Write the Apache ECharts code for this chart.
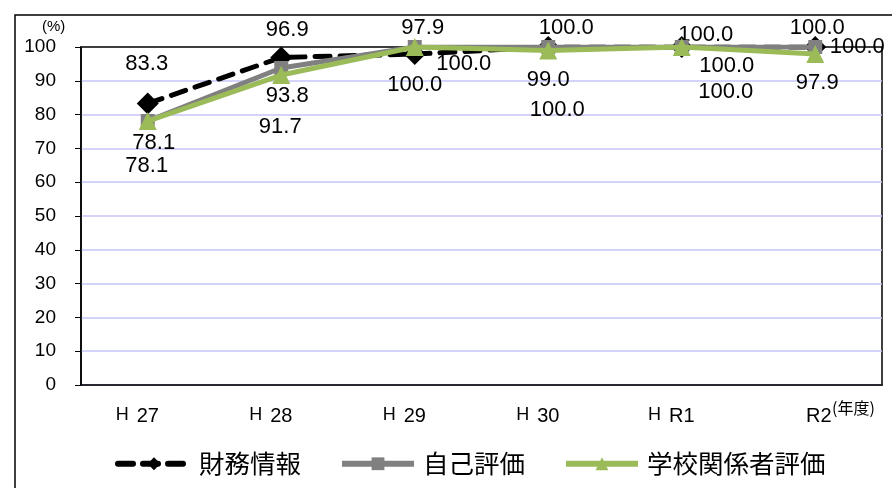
<!DOCTYPE html>
<html>
<head>
<meta charset="utf-8">
<script src="https://cdn.jsdelivr.net/npm/echarts@6/dist/echarts.min.js"></script>
<style>
  html, body { margin: 0; padding: 0; background: #fff; }
  #chart { width: 892px; height: 488px; }
</style>
</head>
<body>
<div id="chart"></div>
<script>
var years = ['27', '28', '29', '30', 'R1', 'R2'];
var names = ['財務情報', '自己評価', '学校関係者評価'];
var zaimu = [83.3, 96.9, 97.9, 100.0, 100.0, 100.0];
var jiko = [78.1, 93.8, 100.0, 100.0, 100.0, 100.0];
var gakko = [78.1, 91.7, 100.0, 99.0, 100.0, 97.9];
var yTicks = [0, 10, 20, 30, 40, 50, 60, 70, 80, 90, 100];

// label offsets (px from the marker), per series
var offZaimu = [[-1, -40], [6, -28], [8, -26], [18, -19], [24, -12], [2, -19]];
var offJiko = [[6, 22], [6, 28], [49, 17], [9, 63], [45, 19], [42, 0]];
var offGakko = [[-1, 45], [-1, 52], [0, 38], [0, 30], [44, 45], [2, 29]];

var myChart = echarts.init(document.getElementById('chart'));

function withLabels(vals, offs) {
	return vals.map(function (v, i) {
		return {
			value: v,
			label: { show: true, position: 'inside', offset: offs[i] }
		};
	});
}

var labelStyle = {
	show: true,
	color: '#000',
	fontSize: 22,
	fontFamily: 'Liberation Sans',
	formatter: function (p) { return p.value.toFixed(1); }
};

var option = {
	animation: false,
	backgroundColor: '#fff',
	grid: {
		left: 81, right: 10, top: 47, bottom: 103,
		show: true, borderColor: '#000', borderWidth: 1.5
	},
	legend: {
		left: 110, top: 446,
		itemWidth: 72, itemHeight: 16, itemGap: 38,
		data: names,
		lineStyle: { width: 6 },
		textStyle: { fontSize: 25.5, color: '#000', fontFamily: 'Noto Sans CJK JP', padding: [0, 0, 0, 4] }
	},
	graphic: [
		{ type: 'rect', shape: { x: 15, y: 15, width: 900, height: 500 },
			style: { fill: 'none', stroke: '#000', lineWidth: 1.5 }, silent: true },
		{ type: 'text', left: 42, top: 19,
			style: { text: '(%)', fontSize: 15, fill: '#000', fontFamily: 'Liberation Sans' } },
		{ type: 'text', left: 832, top: 400,
			style: { text: '(年度)', fontSize: 16, fill: '#000', fontFamily: 'Noto Sans CJK JP' } }
	],
	xAxis: {
		type: 'category',
		data: years,
		boundaryGap: true,
		axisLine: { lineStyle: { color: '#000', width: 1.5 } },
		axisTick: { show: false },
		axisLabel: {
			margin: 21,
			color: '#000',
			formatter: function (v) {
				if (v === 'R2') return '{r|' + v + '}';
				return '{h|H}{n|' + v + '}';
			},
			rich: {
				h: { fontSize: 18, fontFamily: 'Liberation Sans', color: '#000', padding: [0, 8, 3, 0] },
				n: { fontSize: 20, fontFamily: 'Liberation Sans', color: '#000', padding: [0, 21, 0, 0] },
				r: { fontSize: 20, fontFamily: 'Liberation Sans', color: '#000', padding: [0, 0, 0, 7] }
			}
		}
	},
	yAxis: {
		type: 'value',
		min: yTicks[0], max: yTicks[yTicks.length - 1], interval: 10,
		axisLine: { show: true, lineStyle: { color: '#000', width: 1.5 } },
		axisTick: { show: true, length: 6, lineStyle: { color: '#000' } },
		axisLabel: { color: '#000', fontSize: 19, fontFamily: 'Liberation Sans', margin: 25 },
		splitLine: { showMaxLine: false, lineStyle: { color: '#c4c4fa', width: 1.5 } }
	},
	series: [
		{
			name: names[0], type: 'line', z: 3,
			data: withLabels(zaimu, offZaimu),
			symbol: 'diamond', symbolSize: 22,
			itemStyle: { color: '#000' },
			lineStyle: { color: '#000', width: 5, type: [15, 10], cap: 'round' },
			label: labelStyle
		},
		{
			name: names[1], type: 'line', z: 4,
			data: withLabels(jiko, offJiko),
			symbol: 'rect', symbolSize: 14,
			itemStyle: { color: '#808080' },
			lineStyle: { color: '#808080', width: 5 },
			label: labelStyle
		},
		{
			name: names[2], type: 'line', z: 5,
			data: withLabels(gakko, offGakko),
			symbol: 'triangle', symbolSize: 18,
			itemStyle: { color: '#9bbb59' },
			lineStyle: { color: '#9bbb59', width: 5 },
			label: labelStyle
		}
	]
};

myChart.setOption(option);
</script>
</body>
</html>
